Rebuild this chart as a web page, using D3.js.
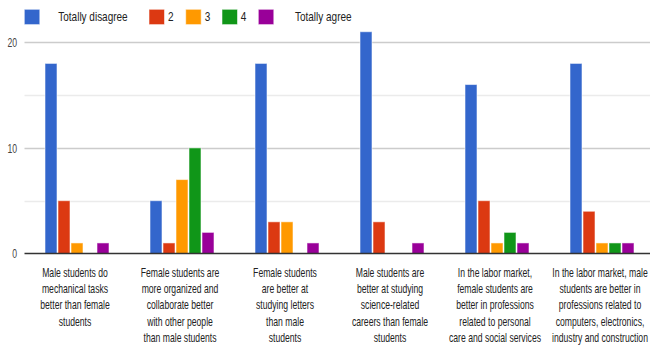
<!DOCTYPE html>
<html>
<head>
<meta charset="utf-8">
<script src="https://cdn.jsdelivr.net/npm/d3@7"></script>
<style>
  html, body { margin: 0; padding: 0; background: #fff; }
  svg { display: block; }
  text { font-family: "Liberation Sans", Arial, sans-serif; }
</style>
</head>
<body>
<svg id="chart" width="650" height="347"></svg>
<script>
// Survey statements (x categories), broken into display lines
const categories = [
  "Male students do mechanical tasks better than female students",
  "Female students are more organized and collaborate better with other people than male students",
  "Female students are better at studying letters than male students",
  "Male students are better at studying science-related careers than female students",
  "In the labor market, female students are better in professions related to personal care and social services",
  "In the labor market, male students are better in professions related to computers, electronics, industry and construction"
];
const categoryLines = [
  ["Male students do", "mechanical tasks", "better than female", "students"],
  ["Female students are", "more organized and", "collaborate better", "with other people", "than male students"],
  ["Female students", "are better at", "studying letters", "than male", "students"],
  ["Male students are", "better at studying", "science-related", "careers than female", "students"],
  ["In the labor market,", "female students are", "better in professions", "related to personal", "care and social services"],
  ["In the labor market, male", "students are better in", "professions related to", "computers, electronics,", "industry and construction"]
];

// Agreement scale (series)
const seriesNames = ["Totally disagree", "2", "3", "4", "Totally agree"];
const seriesColors = ["#3366cc", "#dc3912", "#ff9900", "#109618", "#990099"];

// Response counts per series, one value per statement
const totallyDisagree = [18, 5, 18, 21, 16, 18];
const level2          = [5, 1, 3, 3, 5, 4];
const level3          = [1, 7, 3, 0, 1, 1];
const level4          = [0, 10, 0, 0, 2, 1];
const totallyAgree    = [1, 2, 1, 1, 1, 1];
const seriesValues = [totallyDisagree, level2, level3, level4, totallyAgree];

const yTicks = [0, 5, 10, 15, 20];
const yTickLabels = ["0", "", "10", "", "20"];

// Text is drawn horizontally condensed
const labelSquash = 0.72;
const legendSquash = 0.8;

const svg = d3.select("#chart");

const x0 = d3.scaleBand()
  .domain(d3.range(categories.length))
  .range([24.5, 654.5])
  .paddingInner(40 / 105)
  .paddingOuter(20 / 105);

const x1 = d3.scaleBand()
  .domain(d3.range(seriesNames.length))
  .range([0, x0.bandwidth()]);

const y = d3.scaleLinear().domain([0, 20]).range([253.5, 42.3]);

const color = d3.scaleOrdinal().domain(d3.range(seriesNames.length)).range(seriesColors);

// Gridlines: major at labelled ticks, lighter minor between
const grid = svg.append("g");
yTicks.filter(t => t !== 0).forEach(t => {
  grid.append("line")
    .attr("x1", 24.5).attr("x2", 650)
    .attr("y1", Math.round(y(t)) + 0.5).attr("y2", Math.round(y(t)) + 0.5)
    .attr("stroke", t % 10 === 0 ? "#cccccc" : "#ebebeb")
    .attr("stroke-width", 1.3);
});

// Y tick labels
const yAxis = d3.axisLeft(y).tickValues(yTicks)
  .tickFormat((d, i) => yTickLabels[i]).tickSize(0).tickPadding(0);
const yg = svg.append("g").attr("transform", "translate(17,0)").call(yAxis);
yg.select(".domain").remove();
yg.selectAll("text")
  .attr("fill", "#444")
  .attr("font-size", 12)
  .attr("x", 0)
  .attr("dy", "0.35em")
  .attr("transform", `scale(${labelSquash},1)`)
  .style("font-family", "'Liberation Sans', Arial, sans-serif");

// Bars
const groups = svg.append("g").selectAll("g")
  .data(categories)
  .join("g")
  .attr("transform", (d, i) => `translate(${x0(i)},0)`);

groups.selectAll("rect")
  .data((d, ci) => seriesValues.map((vals, si) => ({ si, v: vals[ci] })))
  .join("rect")
  .filter(d => d.v > 0)
  .attr("x", d => x1(d.si) + 0.5)
  .attr("width", x1.bandwidth() - 1)
  .attr("y", d => y(d.v))
  .attr("height", d => y(0) - y(d.v))
  .attr("fill", d => color(d.si))
  .attr("stroke", "#ffffff")
  .attr("stroke-opacity", 0.55)
  .attr("stroke-width", 1);

// Baseline
svg.append("line")
  .attr("x1", 24.5).attr("x2", 650)
  .attr("y1", y(0)).attr("y2", y(0))
  .attr("stroke", "#333")
  .attr("stroke-width", 1.6);

// Category labels under each group
const labels = svg.append("g").selectAll("text")
  .data(categoryLines)
  .join("text")
  .attr("text-anchor", "middle")
  .attr("fill", "#222")
  .attr("font-size", 12)
  .attr("transform", (d, i) =>
    `translate(${x0(i) + x0.bandwidth() / 2 - 2},277) scale(${labelSquash},1)`);
labels.selectAll("tspan")
  .data(d => d)
  .join("tspan")
  .attr("x", 0)
  .attr("y", (d, i) => i * 16.25)
  .text(d => d);

// Legend
const legendPos = [
  { box: 24.3, text: 58.3 },
  { box: 149, text: 168 },
  { box: 185.7, text: 204.7 },
  { box: 222, text: 240.7 },
  { box: 258.3, text: 295 }
];
const legend = svg.append("g").selectAll("g")
  .data(seriesNames)
  .join("g");
legend.append("rect")
  .attr("x", (d, i) => legendPos[i].box)
  .attr("y", 9.3)
  .attr("width", 15.5)
  .attr("height", 15.3)
  .attr("fill", (d, i) => color(i))
  .attr("stroke", "#ffffff")
  .attr("stroke-opacity", 0.55);
legend.append("text")
  .attr("transform", (d, i) => `translate(${legendPos[i].text},20.5) scale(${legendSquash},1)`)
  .attr("fill", "#222")
  .attr("font-size", 12.5)
  .text(d => d);
</script>
</body>
</html>
